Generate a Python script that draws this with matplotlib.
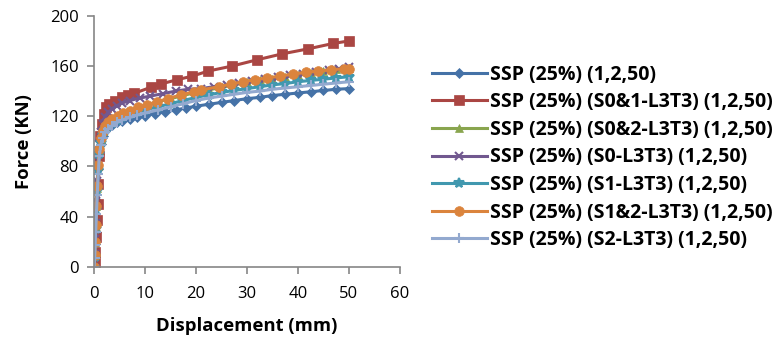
import matplotlib
matplotlib.use("Agg")
import matplotlib.pyplot as plt

plt.rcParams['font.family'] = ['Open Sans', 'DejaVu Sans']

labels = [
    "SSP (25%) (1,2,50)",
    "SSP (25%) (S0&1-L3T3) (1,2,50)",
    "SSP (25%) (S0&2-L3T3) (1,2,50)",
    "SSP (25%) (S0-L3T3) (1,2,50)",
    "SSP (25%) (S1-L3T3) (1,2,50)",
    "SSP (25%) (S1&2-L3T3) (1,2,50)",
    "SSP (25%) (S2-L3T3) (1,2,50)",
]

# blue - base
x_base = [0, 0.1, 0.2, 0.3, 0.4, 0.5, 0.6, 0.8, 1.0, 1.3, 1.7, 2.2, 2.8, 3.5, 4.5, 5.5, 7, 8.5, 10,
          12, 14, 16, 18, 20, 22.5, 25, 27.5, 30, 32.5, 35, 37.5, 40, 42.5, 45, 47.5, 50]
y_base = [0, 8, 18, 28, 40, 52, 63, 78, 90, 98, 104, 108, 111, 113, 115, 116.5, 118, 119.5, 120.5,
          122, 123.5, 125, 126.5, 128, 129.5, 131, 132.5, 134, 135, 136.5, 137.5, 138.5, 139.5, 140.5, 141.5, 142]

# red - S0&1
x_s01 = [0, 0.1, 0.25, 0.4, 0.6, 0.7, 0.85, 1.0, 1.2, 1.5, 1.9, 2.3, 3.0, 4.1, 5.4, 6.7, 7.9,
         11.1, 13.2, 16.2, 19.3, 22.4, 27.1, 32.0, 36.9, 42.0, 46.9, 50]
y_s01 = [0, 3, 12, 24, 37, 50, 66, 88, 104, 114, 122, 127, 130, 132.5, 135, 136.8, 138.3,
         143, 145.8, 149, 152, 156, 160, 165, 169.7, 173.7, 178, 180]

# green - S0&2
x_s02 = [0, 0.1, 0.2, 0.3, 0.45, 0.6, 0.8, 1.0, 1.3, 1.7, 2.2, 2.8, 3.5, 4.5, 5.5, 7, 8.5, 10,
         12.5, 15, 17.5, 20, 22.5, 25, 27.5, 30, 32.5, 35, 37.5, 40, 42.5, 45, 47.5, 50]
y_s02 = [0, 9, 20, 32, 48, 63, 80, 93, 102, 108, 112, 115, 117.5, 120, 122, 124.5, 126.5, 128.5,
         131.5, 134, 136.5, 139, 141, 143, 145, 147, 148.5, 150, 151.5, 153, 154.5, 156, 157.5, 158.5]

# purple - S0
x_s0 = [0, 0.1, 0.2, 0.3, 0.45, 0.6, 0.8, 1.0, 1.3, 1.7, 2.2, 2.8, 3.5, 4.5, 5.5, 7, 9, 11,
        13.5, 16, 18.5, 21, 23.5, 26, 28.5, 31, 33.5, 36, 38.5, 41, 43.5, 46, 48, 50]
y_s0 = [0, 10, 22, 35, 52, 68, 85, 98, 107, 114, 119, 123, 126, 128.5, 130.5, 132.5, 134.5, 136,
        138, 140, 141.5, 142, 143.5, 145, 146.5, 148, 149.5, 151, 152.5, 154, 155.5, 157, 158, 159]

# teal - S1
x_s1 = [0, 0.1, 0.2, 0.3, 0.45, 0.6, 0.8, 1.0, 1.3, 1.7, 2.2, 2.8, 3.5, 4.5, 5.5, 7, 8.5, 10,
        12.5, 15, 17.5, 20, 22.5, 25, 27.5, 30, 32.5, 35, 37.5, 40, 42.5, 45, 47.5, 50]
y_s1 = [0, 8, 19, 30, 45, 60, 77, 90, 99, 105, 109, 112, 114.5, 117, 119, 121.5, 123.5, 125,
        127.5, 130, 132.5, 135, 137, 139, 140.5, 142, 143.5, 145, 146, 147.5, 148.5, 149.5, 150.5, 151.5]

# orange - S1&2
x_s12 = [0, 0.1, 0.2, 0.3, 0.45, 0.6, 0.8, 1.0, 1.3, 1.7, 2.2, 2.8, 3.6, 4.6, 5.7, 7, 8.6, 10.3,
         12.3, 14.5, 17, 19.6, 21, 24.5, 26.8, 29.2, 31.5, 34, 36.5, 39, 41.5, 44, 46.5, 49, 50]
y_s12 = [0, 9, 20, 33, 48, 64, 81, 94, 103, 108.5, 112.5, 115.5, 118, 120.5, 122.5, 124.5, 127, 129,
         131.5, 134, 137, 139.5, 141, 143.5, 145.5, 147.5, 149, 150.5, 152, 153.5, 155, 156, 157, 157.8, 158]

# light blue - S2
x_s2 = [0, 0.1, 0.2, 0.3, 0.45, 0.6, 0.8, 1.0, 1.3, 1.7, 2.2, 2.8, 3.5, 4.5, 5.5, 7, 8.5, 10,
        12.5, 15, 17.5, 20, 22.5, 25, 27.5, 30, 32.5, 35, 37.5, 40, 42.5, 45, 47.5, 50]
y_s2 = [0, 7, 17, 28, 42, 57, 74, 88, 97, 103, 107, 110, 112.5, 115, 117, 119, 121, 122.5,
        125, 127.5, 130, 132.5, 134.5, 136, 137.5, 139, 140, 141.5, 142.5, 143.5, 144.5, 145.5, 146.5, 147.5]

xs = [x_base, x_s01, x_s02, x_s0, x_s1, x_s12, x_s2]
ys = [y_base, y_s01, y_s02, y_s0, y_s1, y_s12, y_s2]
colors = ['#4572A7', '#AA4643', '#89A54E', '#71588F', '#4198AF', '#DB843D', '#93A9CF']
markers = ['D', 's', '^', 'x', '*', 'o', '+']
msizes = [5, 6.5, 6, 6, 7, 7, 7]

fig = plt.figure(figsize=(7.78, 3.45), dpi=100)
ax = fig.add_axes([0.121, 0.227, 0.393, 0.727])

for x, y, c, m, ms, lab in zip(xs, ys, colors, markers, msizes, labels):
    ax.plot(x, y, color=c, marker=m, markersize=ms, linewidth=2.2, label=lab,
            markeredgewidth=1.5 if m in ('x', '+', '*') else 0.5, markeredgecolor=c)

ax.set_xlim(0, 60)
ax.set_ylim(0, 200)
ax.set_xticks(range(0, 61, 10))
ax.set_yticks(range(0, 201, 40))
for s in ['top', 'right']:
    ax.spines[s].set_visible(False)
for s in ['left', 'bottom']:
    ax.spines[s].set_color('#868686')
    ax.spines[s].set_linewidth(1.2)
ax.tick_params(direction='out', length=5, color='#868686', labelsize=12, width=1.2, pad=6)
ax.tick_params(axis='x', pad=9)
ax.set_xlabel('Displacement (mm)', fontsize=13.3, fontweight='bold', labelpad=11)
ax.set_ylabel('Force (KN)', fontsize=13.3, fontweight='bold', labelpad=12)

fig.legend(loc='upper left', bbox_to_anchor=(0.545, 0.835), frameon=False,
           prop={'size': 14, 'weight': 'bold'}, handlelength=2.85, labelspacing=0.39,
           handletextpad=0.15, borderaxespad=0)

fig.savefig('out.png', dpi=100)
